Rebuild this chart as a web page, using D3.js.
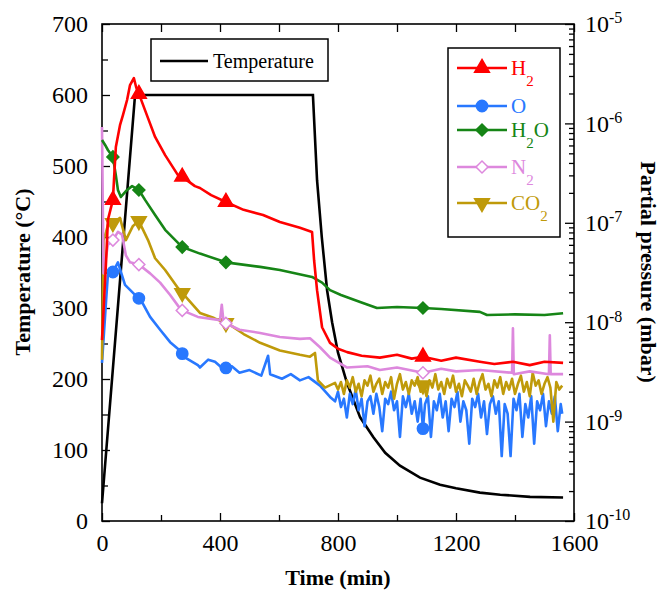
<!DOCTYPE html>
<html lang="en">
<head>
<meta charset="UTF-8">
<title>Temperature and partial pressures</title>
<style>
  body { margin: 0; background: #fff; }
  svg, svg text, .axis, .axis text { font-family: "Liberation Serif", "Times New Roman", serif; }
  .axis path { display: none; }
  .axis line { stroke: #000; stroke-width: 1.3; }
  .axis text { font-size: 24px; fill: #000; }
</style>
</head>
<body>
<svg id="chart" width="662" height="592"></svg>
<script src="https://cdn.jsdelivr.net/npm/d3@7"></script>
<script>
// values: [time (min), value]
var temperature = [[0,25],[112,600],[715,600],[729,480],[745,400],[763,325],[780,280],[800,237],[830,195],[875,146],[920,118],[960,96],[1010,78],[1078,61],[1146,51],[1200,46],[1281,40],[1350,37],[1451,34],[1563,33]];

var h2 = [[0,6.6e-9],[14,4.2e-8],[20,1.07e-7],[37,1.7e-7],[42,3.2e-7],[47,5.8e-7],[61,9.6e-7],[71,1.21e-6],[85,1.72e-6],[95,2.43e-6],[108,2.86e-6],[116,2.3e-6],[129,1.85e-6],[156,1.13e-6],[180,7.3e-7],[214,4.8e-7],[258,3.0e-7],[272,2.9e-7],[315,2.34e-7],[332,2.24e-7],[370,1.9e-7],[420,1.62e-7],[480,1.35e-7],[546,1.2e-7],[603,1.02e-7],[671,8.9e-8],[712,8.1e-8],[719,4.2e-8],[729,2.1e-8],[746,8.9e-9],[773,6.2e-9],[800,5.4e-9],[831,5.0e-9],[880,4.6e-9],[942,4.4e-9],[1000,4.7e-9],[1050,4.3e-9],[1088,4.5e-9],[1150,4.1e-9],[1200,4.4e-9],[1281,4.0e-9],[1330,3.8e-9],[1393,4.0e-9],[1450,3.7e-9],[1500,4.0e-9],[1563,3.9e-9]];

var oxygen = [[0,3.9e-9],[14,1.67e-8],[20,3.0e-8],[37,3.2e-8],[54,4.0e-8],[78,2.37e-8],[112,1.88e-8],[132,1.67e-8],[163,1.13e-8],[197,8.4e-9],[231,6.3e-9],[264,5.2e-9],[282,4.4e-9],[325,3.7e-9],[332,3.5e-9],[360,4.2e-9],[383,4.0e-9],[410,3.4e-9],[440,3.6e-9],[466,3.1e-9],[500,3.3e-9],[540,2.9e-9],[563,4.6e-9],[570,3.0e-9],[610,2.7e-9],[640,3.0e-9],[671,2.6e-9],[700,2.8e-9],[739,2.3e-9],[773,1.77e-9],
  [790,1.6e-9],[800,2.0e-9],[810,1.4e-9],[820,1.7e-9],[830,1.1e-9],[840,1.9e-9],[850,1.5e-9],[860,2.1e-9],[870,1.3e-9],[880,1.7e-9],[890,0.9e-9],[900,1.6e-9],[910,1.8e-9],[920,1.2e-9],[930,1.9e-9],[940,1.4e-9],[950,0.8e-9],[960,1.7e-9],[970,1.5e-9],[980,2.0e-9],[990,1.3e-9],[1000,1.6e-9],[1010,0.7e-9],[1020,1.8e-9],[1030,1.4e-9],[1040,1.9e-9],[1050,1.2e-9],[1060,1.6e-9],[1070,1.0e-9],[1080,1.7e-9],[1088,0.85e-9],[1095,1.5e-9],[1105,1.8e-9],[1115,0.7e-9],[1125,1.6e-9],[1135,1.3e-9],[1145,1.9e-9],[1155,1.1e-9],[1165,1.6e-9],[1175,0.8e-9],[1185,1.7e-9],[1195,1.4e-9],[1205,2.0e-9],[1215,1.0e-9],[1225,1.6e-9],[1235,1.3e-9],[1245,0.6e-9],[1255,1.7e-9],[1265,1.4e-9],[1275,1.9e-9],[1285,1.1e-9],[1295,1.6e-9],[1305,0.75e-9],[1315,1.5e-9],[1325,1.8e-9],[1335,1.2e-9],[1345,1.6e-9],[1355,0.45e-9],[1365,1.5e-9],[1375,1.2e-9],[1385,0.45e-9],[1395,1.7e-9],[1405,1.3e-9],[1415,1.9e-9],[1425,0.7e-9],[1435,1.5e-9],[1445,1.1e-9],[1455,1.8e-9],[1465,0.6e-9],[1475,1.6e-9],[1485,1.3e-9],[1495,1.9e-9],[1505,0.9e-9],[1515,1.6e-9],[1525,1.2e-9],[1535,1.8e-9],[1545,0.8e-9],[1555,1.5e-9],[1560,1.2e-9]];

var water = [[0,6.8e-7],[10,6.1e-7],[20,5.4e-7],[37,4.6e-7],[47,3.0e-7],[54,2.14e-7],[64,1.82e-7],[85,2.14e-7],[102,2.34e-7],[125,2.14e-7],[146,1.7e-7],[180,1.2e-7],[214,8.5e-8],[272,5.7e-8],[332,4.9e-8],[420,4.0e-8],[536,3.6e-8],[603,3.35e-8],[712,2.85e-8],[746,2.5e-8],[773,2.1e-8],[810,1.88e-8],[875,1.6e-8],[932,1.39e-8],[1000,1.42e-8],[1088,1.39e-8],[1150,1.36e-8],[1281,1.27e-8],[1305,1.18e-8],[1400,1.2e-8],[1500,1.18e-8],[1563,1.23e-8]];

var nitrogen = [[0,9.2e-7],[5,3.1e-8],[20,6.0e-8],[37,6.7e-8],[54,8.1e-8],[68,7.6e-8],[81,4.7e-8],[95,4.0e-8],[125,3.8e-8],[163,3.1e-8],[197,2.5e-8],[231,1.88e-8],[268,1.33e-8],[325,1.13e-8],[400,1.05e-8],[406,1.5e-8],[412,1.0e-8],[466,8.4e-9],[536,7.8e-9],[603,7.1e-9],[671,6.8e-9],[705,6.9e-9],[739,5.6e-9],[773,4.4e-9],[831,3.5e-9],[900,3.6e-9],[942,3.3e-9],[1000,3.5e-9],[1088,3.1e-9],[1150,3.4e-9],[1200,3.2e-9],[1281,3.3e-9],[1390,3.1e-9],[1393,8.7e-9],[1396,3.0e-9],[1450,3.2e-9],[1515,3.0e-9],[1518,7.4e-9],[1521,3.0e-9],[1563,3.0e-9]];

var co2 = [[0,4.2e-9],[5,6.7e-8],[14,8.1e-8],[20,9.5e-8],[37,9.95e-8],[61,1.12e-7],[81,6.7e-8],[105,9.3e-8],[125,1.04e-7],[156,6.7e-8],[180,4.4e-8],[214,3.35e-8],[258,2.2e-8],[272,1.97e-8],[332,1.24e-8],[380,1.1e-8],[434,9.4e-9],[480,7.6e-9],[536,6.2e-9],[603,5.2e-9],[671,4.7e-9],[705,4.5e-9],[722,4.9e-9],[732,2.6e-9],[756,2.2e-9],[790,2.45e-9],
  [800,2.1e-9],[810,2.5e-9],[820,1.9e-9],[830,2.6e-9],[840,2.2e-9],[850,2.8e-9],[860,2.0e-9],[870,2.4e-9],[880,1.8e-9],[890,2.6e-9],[900,2.3e-9],[910,2.9e-9],[920,2.0e-9],[930,2.4e-9],[940,2.7e-9],[950,1.9e-9],[960,2.5e-9],[970,2.2e-9],[980,2.8e-9],[990,1.7e-9],[1000,2.4e-9],[1010,3.0e-9],[1020,2.1e-9],[1030,2.5e-9],[1040,1.9e-9],[1050,2.6e-9],[1060,2.3e-9],[1070,2.8e-9],[1080,2.0e-9],[1090,2.4e-9],[1100,1.8e-9],[1110,2.6e-9],[1120,2.2e-9],[1130,3.0e-9],[1140,2.1e-9],[1150,2.5e-9],[1160,1.9e-9],[1170,2.7e-9],[1180,2.2e-9],[1190,2.9e-9],[1200,2.0e-9],[1210,2.4e-9],[1220,1.8e-9],[1230,2.6e-9],[1240,2.3e-9],[1250,2.0e-9],[1260,2.7e-9],[1270,1.9e-9],[1280,2.5e-9],[1290,3.0e-9],[1300,2.1e-9],[1310,2.4e-9],[1320,1.8e-9],[1330,2.6e-9],[1340,2.2e-9],[1350,2.8e-9],[1360,1.9e-9],[1370,2.5e-9],[1380,2.1e-9],[1390,2.7e-9],[1400,1.9e-9],[1410,2.4e-9],[1420,2.9e-9],[1430,2.0e-9],[1440,2.5e-9],[1450,1.8e-9],[1460,3.1e-9],[1470,2.3e-9],[1480,2.6e-9],[1490,1.9e-9],[1500,2.4e-9],[1510,2.8e-9],[1520,2.2e-9],[1530,1.0e-9],[1540,2.5e-9],[1550,2.1e-9],[1560,2.3e-9]];

var markerTimes = [37, 125, 272, 420, 1088];
var timeTicks = [0, 400, 800, 1200, 1600];
var timeMinor = [200, 600, 1000, 1400];
var tempTicks = [0, 100, 200, 300, 400, 500, 600, 700];
var tempMinor = [50, 150, 250, 350, 450, 550, 650];
var pressureDecades = [1e-10, 1e-9, 1e-8, 1e-7, 1e-6, 1e-5];

var species = [
  {name: "H", sub: "2", after: "", data: h2, color: "#ff0000", shape: "up", fill: true},
  {name: "O", sub: "", after: "", data: oxygen, color: "#2878ff", shape: "circle", fill: true},
  {name: "H", sub: "2", after: "O", data: water, color: "#168516", shape: "diamond", fill: true},
  {name: "N", sub: "2", after: "", data: nitrogen, color: "#dd88dd", shape: "diamond", fill: false},
  {name: "CO", sub: "2", after: "", data: co2, color: "#bf9a0a", shape: "down", fill: true}
];
var drawOrder = [1, 4, 3, 2, 0];
var legendRows = [68, 106, 130, 167, 203];
var serif = "'Liberation Serif', 'Times New Roman', serif";

var svg = d3.select("#chart");
var x = d3.scaleLinear().domain([0, 1600]).range([102, 574]);
var yT = d3.scaleLinear().domain([0, 700]).range([521, 24]);
var yP = d3.scaleLog().domain([1e-10, 1e-5]).range([521, 24]);

svg.append("rect").attr("width", 662).attr("height", 592).attr("fill", "#fff");

// axes, ticks pointing inward
function axisGroup(tr) {
  return svg.append("g").attr("class", "axis").attr("transform", tr);
}
axisGroup("translate(0,521)")
  .call(d3.axisBottom(x).tickValues(timeTicks).tickSize(-8).tickPadding(13).tickFormat(d3.format("d")));
axisGroup("translate(0,521)")
  .call(d3.axisBottom(x).tickValues(timeMinor).tickSize(-6).tickFormat(""));
axisGroup("translate(0,24)")
  .call(d3.axisTop(x).tickValues(timeTicks.concat(timeMinor)).tickSize(-8).tickFormat(""));
axisGroup("translate(102,0)")
  .call(d3.axisLeft(yT).tickValues(tempTicks).tickSize(-8).tickPadding(14));
axisGroup("translate(102,0)")
  .call(d3.axisLeft(yT).tickValues(tempMinor).tickSize(-6).tickFormat(""));

var logMinor = [];
pressureDecades.slice(0, -1).forEach(function (d) {
  for (var k = 2; k <= 9; k++) logMinor.push(d * k);
});
axisGroup("translate(574,0)")
  .call(d3.axisRight(yP).tickValues(logMinor).tickSize(-5).tickFormat(""));
var right = axisGroup("translate(574,0)")
  .call(d3.axisRight(yP).tickValues(pressureDecades).tickSize(-9).tickPadding(11).tickFormat(""));
right.selectAll(".tick text").each(function (d) {
  var t = d3.select(this);
  t.append("tspan").text("10");
  t.append("tspan").attr("dy", "-0.55em").attr("font-size", "16px").text("-" + Math.round(-Math.log10(d)));
});
svg.selectAll(".axis").attr("font-family", serif);

// frame
svg.append("rect").attr("x", 102).attr("y", 24).attr("width", 472).attr("height", 497)
  .attr("fill", "none").attr("stroke", "#000").attr("stroke-width", 1.6);

// lines
var tLine = d3.line().x(function (d) { return x(d[0]); }).y(function (d) { return yT(d[1]); });
var pLine = d3.line().x(function (d) { return x(d[0]); }).y(function (d) { return yP(d[1]); });

svg.append("path").datum(temperature).attr("d", tLine)
  .attr("fill", "none").attr("stroke", "#000").attr("stroke-width", 2.6);

function valueAt(series, t) {
  var i = d3.bisector(function (d) { return d[0]; }).left(series, t);
  if (i <= 0) return series[0][1];
  if (i >= series.length) return series[series.length - 1][1];
  var a = series[i - 1], b = series[i];
  var f = (t - a[0]) / (b[0] - a[0]);
  return Math.pow(10, Math.log10(a[1]) + f * (Math.log10(b[1]) - Math.log10(a[1])));
}

function symbolPath(shape) {
  if (shape === "circle") return d3.symbol().type(d3.symbolCircle).size(100)();
  if (shape === "diamond") return d3.symbol().type(d3.symbolSquare).size(72)();
  return d3.symbol().type(d3.symbolTriangle).size(95)();
}
function symbolRotate(shape) {
  if (shape === "diamond") return " rotate(45)";
  if (shape === "down") return " rotate(180)";
  return "";
}

drawOrder.forEach(function (i) {
  var s = species[i];
  svg.append("path").datum(s.data).attr("d", pLine)
    .attr("fill", "none").attr("stroke", s.color).attr("stroke-width", 2.6)
    .attr("stroke-linejoin", "round");
  svg.selectAll(null).data(markerTimes).enter().append("path")
    .attr("d", symbolPath(s.shape))
    .attr("transform", function (t) {
      return "translate(" + x(t) + "," + yP(valueAt(s.data, t)) + ")" + symbolRotate(s.shape);
    })
    .attr("fill", s.fill ? s.color : "#fff")
    .attr("stroke", s.color).attr("stroke-width", 1.5);
});

// temperature legend
svg.append("rect").attr("x", 151).attr("y", 39).attr("width", 177).attr("height", 42)
  .attr("fill", "#fff").attr("stroke", "#000").attr("stroke-width", 1.5);
svg.append("line").attr("x1", 160).attr("x2", 208).attr("y1", 61).attr("y2", 61)
  .attr("stroke", "#000").attr("stroke-width", 2.6);
svg.append("text").attr("x", 213).attr("y", 68).attr("font-family", serif)
  .attr("font-size", "20px").text("Temperature");

// species legend
svg.append("rect").attr("x", 448).attr("y", 48).attr("width", 112).attr("height", 189)
  .attr("fill", "#fff").attr("stroke", "#000").attr("stroke-width", 1.5);
species.forEach(function (s, i) {
  var ly = legendRows[i];
  svg.append("line").attr("x1", 457).attr("x2", 507).attr("y1", ly).attr("y2", ly)
    .attr("stroke", s.color).attr("stroke-width", 2.6);
  svg.append("path").attr("d", symbolPath(s.shape))
    .attr("transform", "translate(482," + ly + ")" + symbolRotate(s.shape))
    .attr("fill", s.fill ? s.color : "#fff").attr("stroke", s.color).attr("stroke-width", 1.5);
  var label = svg.append("text").attr("x", 511).attr("y", ly + 7).attr("font-family", serif)
    .attr("font-size", "21px").attr("fill", s.color);
  label.append("tspan").text(s.name);
  if (s.sub) label.append("tspan").attr("dy", 11).attr("font-size", "15px").text(s.sub);
  if (s.after) label.append("tspan").attr("dy", -11).text(s.after);
});

// axis titles
svg.append("text").attr("transform", "translate(22,272) rotate(-90)")
  .attr("text-anchor", "middle").attr("dominant-baseline", "central").attr("font-family", serif)
  .attr("font-size", "22px").attr("font-weight", "bold").text("Temperature (°C)");
svg.append("text").attr("transform", "translate(648,272) rotate(90)")
  .attr("text-anchor", "middle").attr("dominant-baseline", "central").attr("font-family", serif)
  .attr("font-size", "22px").attr("font-weight", "bold").text("Partial pressure (mbar)");
svg.append("text").attr("x", 338).attr("y", 585).attr("text-anchor", "middle").attr("font-family", serif)
  .attr("font-size", "22px").attr("font-weight", "bold").text("Time (min)");
</script>
</body>
</html>
